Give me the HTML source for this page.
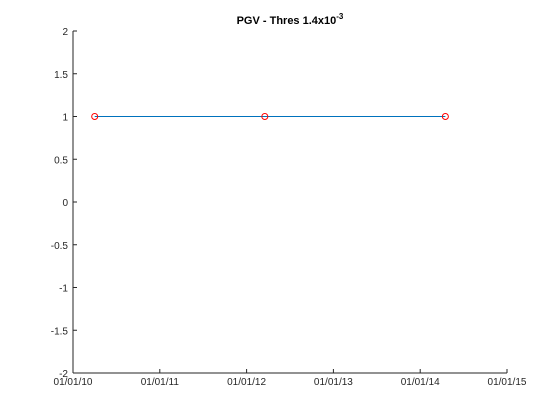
<!DOCTYPE html>
<html><head><meta charset="utf-8"><style>
html,body{margin:0;padding:0;background:#fff;}
svg{display:block;font-family:"Liberation Sans",Arial,sans-serif;}
</style></head><body>
<svg id="chart" width="560" height="420" viewBox="0 0 560 420">
<rect width="560" height="420" fill="#fff"/>
<text x="290" y="24" text-anchor="middle" font-size="11" font-weight="bold" fill="#000">PGV - Thres 1.4x10<tspan dy="-5" font-size="8">-3</tspan></text>
<g id="axes"></g>
<g id="marks"></g>
</svg>
<script>
const xDates = [2010.25, 2012.21, 2014.29];
const yValues = [1, 1, 1];
const xTicks = [2010, 2011, 2012, 2013, 2014, 2015];
const xTickLabels = ["01/01/10","01/01/11","01/01/12","01/01/13","01/01/14","01/01/15"];
const yTicks = [-2, -1.5, -1, -0.5, 0, 0.5, 1, 1.5, 2];
const yTickLabels = ["-2","-1.5","-1","-0.5","0","0.5","1","1.5","2"];

const L=73,R=507,T=31,B=373;
const xs=v=>L+(v-2010)/5*(R-L);
const ys=v=>B-(v+2)/4*(B-T);
const NS="http://www.w3.org/2000/svg";
const ax=document.getElementById('axes'), mk=document.getElementById('marks');
function mkEl(t,a,p){const e=document.createElementNS(NS,t);for(const k in a)e.setAttribute(k,a[k]);p.appendChild(e);return e;}

let e=mkEl('line',{x1:L,y1:T,x2:L,y2:B,stroke:'#262626','stroke-width':1},ax);


e=mkEl('line',{x1:L,y1:B,x2:R,y2:B,stroke:'#262626','stroke-width':1},ax);



yTicks.forEach((v,i)=>{
  const y=ys(v);
  const t=mkEl('line',{x1:L,y1:y,x2:L+4,y2:y,stroke:'#262626'},ax);
  
  
  const l=mkEl('text',{x:L-5,y:y+4,'text-anchor':'end','font-size':10,fill:'#262626'},ax);
  l.textContent=yTickLabels[i];
  
  
});
xTicks.forEach((v,i)=>{
  const x=xs(v);
  const t=mkEl('line',{x1:x,y1:B,x2:x,y2:B-4,stroke:'#262626'},ax);
  
  
  const l=mkEl('text',{x:x,y:B+12,'text-anchor':'middle','font-size':10,fill:'#262626'},ax);
  l.textContent=xTickLabels[i];
  
  
});

const pts=xDates.map((d,i)=>xs(d)+','+ys(yValues[i])).join(' ');
const pl=mkEl('polyline',{points:pts,fill:'none',stroke:'#0072BD','stroke-width':1},mk);


xDates.forEach((d,i)=>{
  const c=mkEl('circle',{cx:xs(d),cy:ys(yValues[i]),r:3,fill:'none',stroke:'#FF0000','stroke-width':1},mk);
  
  
});
</script>
</body></html>
